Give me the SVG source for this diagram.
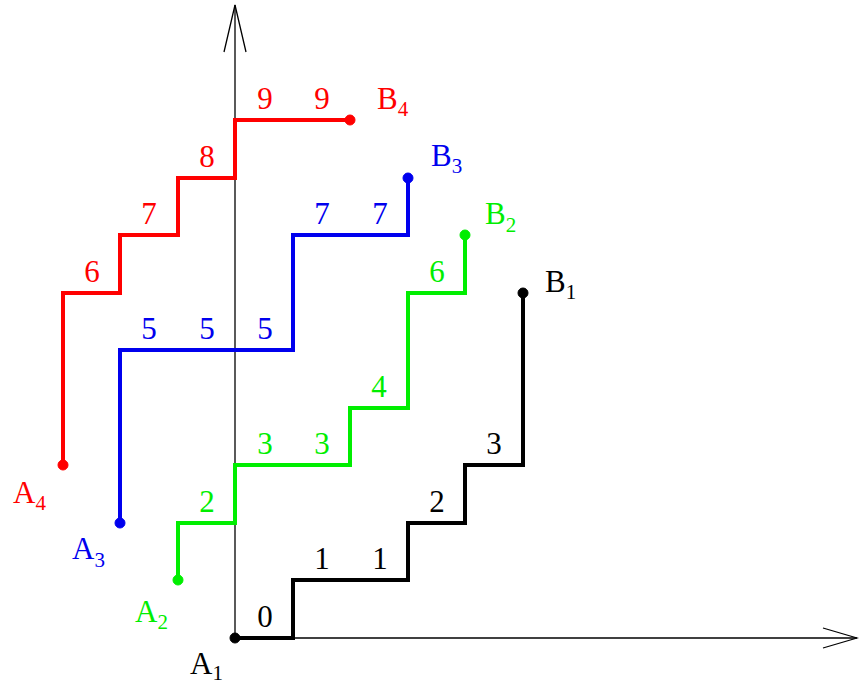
<svg xmlns="http://www.w3.org/2000/svg" width="859" height="685" viewBox="0 0 859 685">
<style>
.t text{font-family:'Liberation Serif','Times New Roman',serif;font-size:31px}
.t text.n{text-anchor:middle}
.sub{font-size:21px}
.axis{stroke:#000;stroke-width:1.3;fill:none}
.p{fill:none;stroke-width:4;stroke-linejoin:miter}
.k{fill:#000;stroke:#000}.g{fill:#00ee00;stroke:#00ee00}.b{fill:#0000ee;stroke:#0000ee}.r{fill:#ff0000;stroke:#ff0000}
text.k,text.g,text.b,text.r{stroke:none}
</style>
<g id="axes">
<line class="axis" x1="235" y1="638" x2="235" y2="5"/>
<polyline class="axis" points="224,52 235,5 246,52"/>
<line class="axis" x1="235" y1="638" x2="857" y2="638"/>
<polyline class="axis" points="823,628 857,638 823,648"/>
</g>
<g id="connectors">
<polyline class="p k" style="fill:none" points="235,638 293,638 293,580 408,580 408,523 465,523 465,465 523,465 523,293"/>
<polyline class="p g" style="fill:none" points="178,580 178,523 235,523 235,465 350,465 350,408 408,408 408,293 465,293 465,235"/>
<polyline class="p b" style="fill:none" points="120,523 120,350 293,350 293,235 408,235 408,178"/>
<polyline class="p r" style="fill:none" points="63,465 63,293 120,293 120,235 178,235 178,178 235,178 235,120 350,120"/>
</g>
<g class="t">
<g id="path1">
<circle class="k" cx="235" cy="638" r="5"/><circle class="k" cx="523" cy="293" r="5"/>
<text class="k n" x="265" y="627">0</text><text class="k n" x="322" y="569">1</text><text class="k n" x="380" y="569">1</text><text class="k n" x="437" y="512">2</text><text class="k n" x="494" y="454">3</text>
<text class="k" x="190" y="674">A<tspan class="sub" dy="6">1</tspan></text>
<text class="k" x="545" y="292">B<tspan class="sub" dy="7">1</tspan></text>
</g>
<g id="path2">
<circle class="g" cx="178" cy="580" r="5"/><circle class="g" cx="465" cy="235" r="5"/>
<text class="g n" x="207" y="512">2</text><text class="g n" x="265" y="454">3</text><text class="g n" x="322" y="454">3</text><text class="g n" x="379" y="397">4</text><text class="g n" x="437" y="282">6</text>
<text class="g" x="135" y="622">A<tspan class="sub" dy="7">2</tspan></text>
<text class="g" x="485" y="224">B<tspan class="sub" dy="8">2</tspan></text>
</g>
<g id="path3">
<circle class="b" cx="120" cy="523" r="5"/><circle class="b" cx="408" cy="178" r="5"/>
<text class="b n" x="149" y="339">5</text><text class="b n" x="207" y="339">5</text><text class="b n" x="265" y="339">5</text><text class="b n" x="322" y="224">7</text><text class="b n" x="380" y="224">7</text>
<text class="b" x="72" y="559">A<tspan class="sub" dy="8">3</tspan></text>
<text class="b" x="431" y="166">B<tspan class="sub" dy="7">3</tspan></text>
</g>
<g id="path4">
<circle class="r" cx="63" cy="465" r="5"/><circle class="r" cx="350" cy="120" r="5"/>
<text class="r n" x="92" y="282">6</text><text class="r n" x="149" y="224">7</text><text class="r n" x="207" y="167">8</text><text class="r n" x="265" y="109">9</text><text class="r n" x="322" y="109">9</text>
<text class="r" x="13" y="503">A<tspan class="sub" dy="7">4</tspan></text>
<text class="r" x="377" y="109">B<tspan class="sub" dy="7">4</tspan></text>
</g>
</g>
</svg>
